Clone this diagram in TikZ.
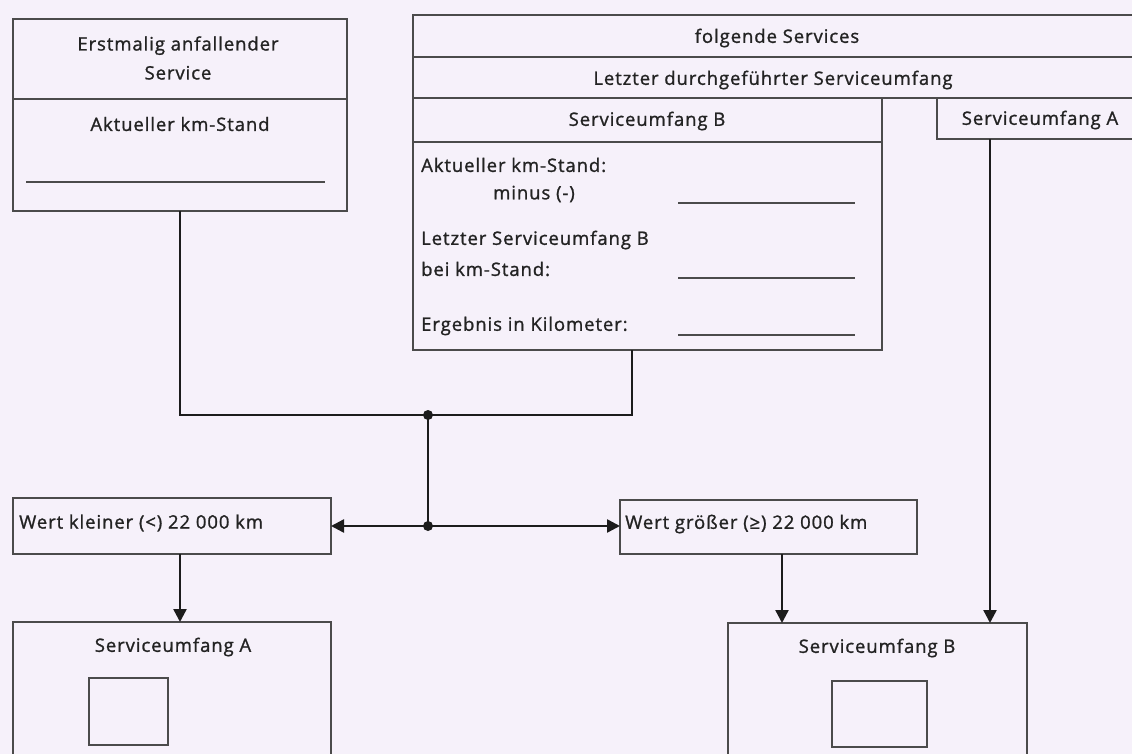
\documentclass[tikz,border=0pt]{standalone}
\usepackage{fontspec}
\setmainfont{Open Sans}[LetterSpace=5,FakeBold=1.2]
\usetikzlibrary{arrows.meta}
\definecolor{bg}{RGB}{246,241,250}
\definecolor{boxc}{RGB}{75,75,75}
\definecolor{txtc}{RGB}{35,35,35}
\definecolor{conc}{RGB}{28,28,28}
\begin{document}
\begin{tikzpicture}[x=1pt,y=-1pt,
  box/.style={draw=boxc, line width=1.4pt, rectangle, anchor=north west, inner sep=0pt, outer sep=0pt},
  txt/.style={text=txtc, font=\fontsize{18.5}{29}\selectfont, inner sep=0pt},
  blank/.style={draw=boxc, line width=1.4pt},
  con/.style={draw=conc, line width=2.4pt},
  arr/.style={con, -{Triangle[length=13pt,width=13pt]}},
  dot/.style={fill=conc}]
\useasboundingbox (0,0) rectangle (1132,754);
\fill[bg] (0,0) rectangle (1132,754);
\clip (0,0) rectangle (1132,754);
% left top box
\node[box, minimum width=334pt, minimum height=80pt] (ftop) at (13,19) {};
\node[box, minimum width=334pt, minimum height=112pt] (fbot) at (13,99) {};
\node[txt, align=center] (t1) at (178,58) {Erstmalig anfallender\\Service};
\node[txt] (t2) at (180,124) {Aktueller km-Stand};
\draw[blank] (26,182) -- (325,182);
% top right
\node[box, minimum width=740pt, minimum height=42pt] (fs) at (413,15) {};
\node[txt] (tfs) at (777,38) {folgende Services};
\node[box, minimum width=740pt, minimum height=41pt] (ld) at (413,57) {};
\node[txt] (tld) at (773,80) {Letzter durchgeführter Serviceumfang};
\node[box, minimum width=469pt, minimum height=44pt] (sbh) at (413,98) {};
\node[txt] (tsbh) at (647,121) {Serviceumfang B};
\node[box, minimum width=469pt, minimum height=208pt] (sbb) at (413,142) {};
\node[box, minimum width=220pt, minimum height=41pt] (sa) at (937,98) {};
\node[txt] (tsa) at (1040,120) {Serviceumfang A};
\node[txt, anchor=west] (b1) at (421,165) {Aktueller km-Stand:};
\node[txt, anchor=west] (b2) at (493,194) {minus (-)};
\node[txt, anchor=west] (b3) at (421,240) {Letzter Serviceumfang B};
\node[txt, anchor=west] (b4) at (421,269) {bei km-Stand:};
\node[txt, anchor=west] (b5) at (421,326) {Ergebnis in Kilometer:};
\draw[blank] (678,203) -- (855,203);
\draw[blank] (678,278) -- (855,278);
\draw[blank] (678,335) -- (855,335);
% decision boxes
\node[box, minimum width=318pt, minimum height=56pt] (wk) at (13,498) {};
\node[txt, anchor=west] (twk) at (19,523) {Wert kleiner (<) 22 000 km};
\node[box, minimum width=297pt, minimum height=54pt] (wg) at (620,500) {};
\node[txt, anchor=west] (twg) at (625,524) {Wert größer (≥) 22 000 km};
% bottom boxes
\node[box, minimum width=318pt, minimum height=200pt] (oa) at (13,622) {};
\node[txt] (toa) at (173,647) {Serviceumfang A};
\node[box, minimum width=79pt, minimum height=67pt] (ia) at (89,678) {};
\node[box, minimum width=299pt, minimum height=200pt] (ob) at (728,623) {};
\node[txt] (tob) at (877,648) {Serviceumfang B};
\node[box, minimum width=95pt, minimum height=66pt] (ib) at (832,681) {};
% connectors
\coordinate (fo) at (180,211);
\coordinate (so) at (632,350);
\coordinate (j1) at (428,415);
\coordinate (j2) at (428,526);
\coordinate (gx) at (782,554);
\coordinate (ax) at (990,139);
\draw[con] (fo) |- (j1) -| (so);
\draw[con] (j1) -- (j2);
\draw[arr] (j2) -- (wk.east |- j2);
\draw[arr] (j2) -- (wg.west |- j2);
\draw[arr] (wk.south -| fo) -- (oa.north -| fo);
\draw[arr] (gx) -- (gx |- ob.north);
\draw[arr] (ax) -- (ax |- ob.north);
\fill[dot] (j1) circle (5);
\fill[dot] (j2) circle (5);
\end{tikzpicture}
\end{document}
